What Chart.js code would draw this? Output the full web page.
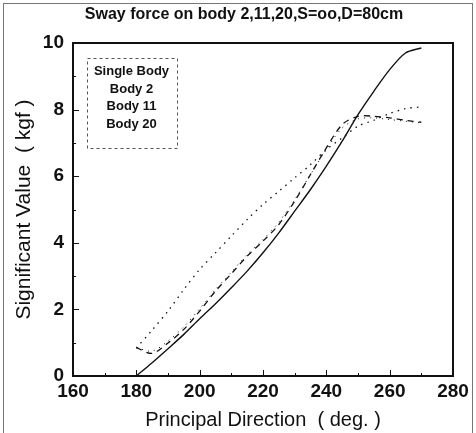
<!DOCTYPE html>
<html>
<head>
<meta charset="utf-8">
<script src="https://cdn.jsdelivr.net/npm/chart.js@4/dist/chart.umd.min.js"></script>
<style>
  html, body { margin: 0; padding: 0; background: #fff; }
  #wrap { position: relative; width: 476px; height: 433px; overflow: hidden; }
  #edge { position: absolute; left: 3px; top: 3px; width: 468px; height: 440px; border: 1px solid #777; border-bottom: none; }
  canvas { position: absolute; left: 0; top: 0; }
</style>
</head>
<body>
<div id="wrap">
  <div id="edge"></div>
  <canvas id="chart" width="476" height="433"></canvas>
</div>
<script>
const chartTitle = "Sway force on body 2,11,20,S=oo,D=80cm";
const xTitle = "Principal Direction  ( deg. )";
const yTitle = "Significant Value  ( kgf )";

const xTicks = [160, 180, 200, 220, 240, 260, 280];
const yTicks = [0, 2, 4, 6, 8, 10];

const directions = [180, 185, 190, 195, 200, 205, 210, 215, 220, 225, 230, 235, 240, 245, 250, 255, 260, 265, 270];
const singleBody = [0, 0.4, 0.82, 1.25, 1.72, 2.17, 2.65, 3.15, 3.7, 4.3, 4.95, 5.6, 6.3, 7.05, 7.85, 8.55, 9.2, 9.7, 9.85];
const body2 = [0.85, 0.68, 0.99, 1.4, 1.95, 2.55, 3.07, 3.6, 4.05, 4.55, 5.25, 6.05, 6.85, 7.55, 7.8, 7.8, 7.75, 7.68, 7.62];
const body11 = [0.84, 1.38, 1.95, 2.6, 3.2, 3.7, 4.2, 4.7, 5.15, 5.55, 5.95, 6.35, 6.8, 7.15, 7.5, 7.68, 7.88, 8.03, 8.08];
const body20 = [0.85, 0.75, 1.05, 1.48, 2.02, 2.6, 3.12, 3.65, 4.1, 4.62, 5.3, 6.05, 6.8, 7.45, 7.72, 7.75, 7.7, 7.65, 7.6];

const FONT = "'Liberation Sans', Arial, sans-serif";

const toPoints = (values) => directions.map((d, i) => ({ x: d, y: values[i] }));

const makeSet = (label, values, dash, width) => ({
  label,
  data: toPoints(values),
  borderColor: "#111",
  borderWidth: width,
  borderDash: dash,
  pointRadius: 0,
  tension: 0.3,
  fill: false,
});

const datasets = [
  makeSet("Single Body", singleBody, [], 1.4),
  makeSet("Body 2", body2, [6, 5], 1.3),
  makeSet("Body 11", body11, [1.5, 5], 1.3),
  makeSet("Body 20", body20, [1, 5], 1),
];

// title, frame, inside tick marks and the boxed legend
const framePlugin = {
  id: "frame",
  afterDatasetsDraw(chart) {
    const { ctx, chartArea: a, scales: { x, y } } = chart;
    ctx.save();

    ctx.fillStyle = "#111";
    ctx.font = `bold 16px ${FONT}`;
    ctx.textAlign = "center";
    ctx.textBaseline = "middle";
    ctx.fillText(chartTitle, 244, 15);

    ctx.strokeStyle = "#111";
    ctx.lineWidth = 2;
    ctx.strokeRect(a.left, a.top, a.right - a.left, a.bottom - a.top);

    ctx.lineWidth = 1;
    ctx.beginPath();
    xTicks.forEach((v, i) => {
      const px = Math.round(x.getPixelForValue(v)) + 0.5;
      ctx.moveTo(px, a.bottom);
      ctx.lineTo(px, a.bottom - 6);
      if (i < xTicks.length - 1) {
        const mx = Math.round(x.getPixelForValue((v + xTicks[i + 1]) / 2)) + 0.5;
        ctx.moveTo(mx, a.bottom);
        ctx.lineTo(mx, a.bottom - 3);
      }
    });
    yTicks.forEach((v, i) => {
      const py = Math.round(y.getPixelForValue(v)) + 0.5;
      ctx.moveTo(a.left, py);
      ctx.lineTo(a.left + 6, py);
      if (i < yTicks.length - 1) {
        const my = Math.round(y.getPixelForValue((v + yTicks[i + 1]) / 2)) + 0.5;
        ctx.moveTo(a.left, my);
        ctx.lineTo(a.left + 3, my);
      }
    });
    ctx.stroke();

    // legend box
    const bx = a.left + 14.5, by = a.top + 15.5, bw = 90, bh = 90;
    ctx.setLineDash([3, 3]);
    ctx.strokeStyle = "#555";
    ctx.strokeRect(bx, by, bw, bh);
    ctx.setLineDash([]);
    ctx.font = `bold 13px ${FONT}`;
    chart.data.datasets.forEach((ds, i) => {
      ctx.fillText(ds.label, bx + bw / 2 - 1, by + 13 + i * 17.6);
    });
    ctx.restore();
  },
};

const config = {
  type: "line",
  data: { datasets },
  options: {
    responsive: false,
    animation: false,
    layout: { padding: { left: 0, right: 23, top: 43, bottom: 0 } },
    plugins: {
      legend: { display: false },
      tooltip: { enabled: false },
      title: { display: false },
    },
    scales: {
      x: {
        type: "linear",
        min: 160,
        max: 280,
        afterBuildTicks: (scale) => { scale.ticks = xTicks.map((v) => ({ value: v })); },
        afterFit: (scale) => { scale.height = 57; },
        grid: { display: false, drawTicks: false },
        border: { display: false },
        ticks: {
          color: "#111",
          padding: 4,
          maxRotation: 0,
          font: { family: FONT, size: 19, weight: "bold" },
        },
        title: {
          display: true,
          text: xTitle,
          color: "#111",
          font: { family: FONT, size: 20 },
          padding: { top: 0, bottom: 1 },
        },
      },
      y: {
        min: 0,
        max: 10,
        afterBuildTicks: (scale) => { scale.ticks = yTicks.map((v) => ({ value: v })); },
        afterFit: (scale) => { scale.width = 73; },
        grid: { display: false, drawTicks: false },
        border: { display: false },
        ticks: {
          color: "#111",
          padding: 9,
          font: { family: FONT, size: 19, weight: "bold" },
        },
        title: {
          display: true,
          text: yTitle,
          color: "#111",
          font: { family: FONT, size: 21 },
          padding: { top: 12, bottom: 0 },
        },
      },
    },
  },
  plugins: [framePlugin],
};

new Chart(document.getElementById("chart"), config);
</script>
</body>
</html>
